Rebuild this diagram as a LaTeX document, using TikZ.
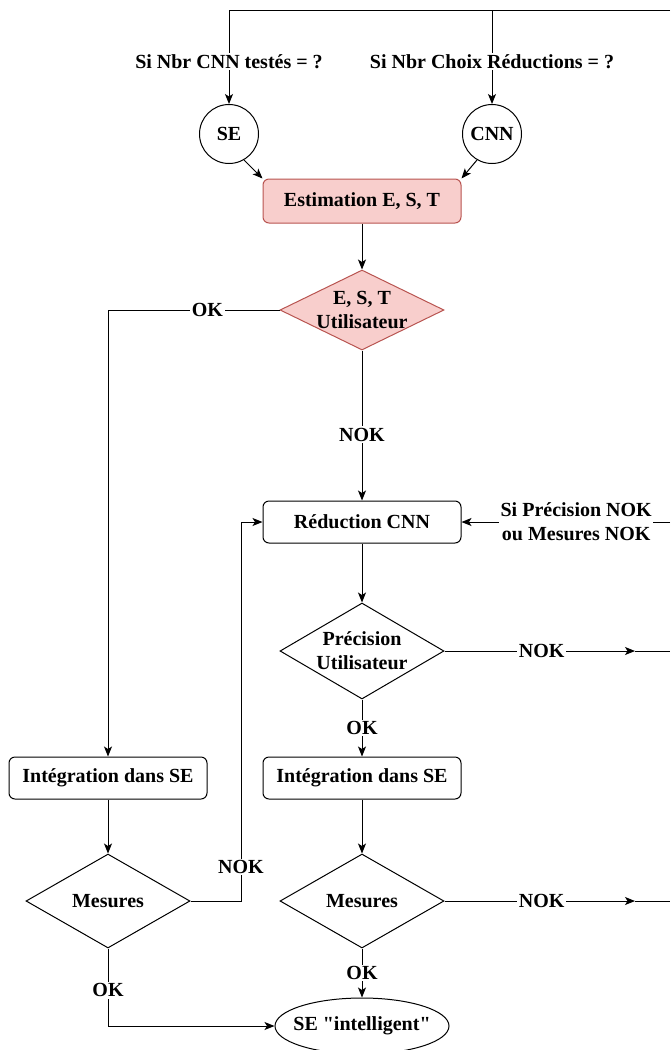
\documentclass[tikz,border=0pt]{standalone}
\usepackage{fontspec}
\newfontfamily\timesfont{Liberation Serif}
\usetikzlibrary{shapes.geometric,arrows.meta}

\definecolor{pinkfill}{HTML}{F8CECC}
\definecolor{pinkline}{HTML}{B85450}

\tikzset{
  box/.style={draw,rounded corners=6pt,minimum width=198,minimum height=42,inner sep=0pt},
  decision/.style={draw,diamond,minimum width=164,minimum height=#1,inner sep=0pt},
  lbl/.style={fill=white,inner sep=1.5pt,align=center},
  pink/.style={fill=pinkfill,draw=pinkline}
}

\begin{document}
\begin{tikzpicture}[x=1pt,y=-1pt,line width=1pt,>={Stealth[length=10pt,width=8pt,inset=2.5pt]},
    font=\timesfont\fontsize{20}{24}\selectfont\bfseries]
  \useasboundingbox (0,0) rectangle (670,1050);

  \coordinate (T1) at (229,10);
  \coordinate (T2) at (492,10);
  \coordinate (TR) at (670,10);
  \coordinate (RedIn) at (670,522);
  \coordinate (Back) at (241,522);
  \coordinate (PrecNok) at (635,651);
  \coordinate (PrecOut) at (670,651);
  \coordinate (MesNok) at (635,901);
  \coordinate (MesOut) at (670,901);

  \node[circle,draw,minimum size=59,inner sep=0pt] (se) at (229,134) {SE};
  \node[circle,draw,minimum size=59,inner sep=0pt] (cnn) at (492,134) {CNN};
  \node[box,pink,minimum height=44] (est) at (362,201) {Estimation E, S, T};
  \node[decision=80,pink,label={[align=center]center:E, S, T\\Utilisateur}] (user) at (362,310) {};
  \node[box] (red) at (362,522) {Réduction CNN};
  \node[decision=96,label={[align=center]center:Précision\\Utilisateur}] (prec) at (362,651) {};
  \node[box] (intL) at (108,778) {Intégration dans SE};
  \node[box] (intR) at (362,778) {Intégration dans SE};
  \node[decision=94,label={center:Mesures}] (mesL) at (108,901) {};
  \node[decision=94,label={center:Mesures}] (mesR) at (362,901) {};
  \node[ellipse,draw,minimum width=174,minimum height=56,label={center:SE "intelligent"}] (fin) at (362,1026) {};

  \draw (TR) -- (T1);
  \draw[->] (T1) -- (se) node[lbl,pos=0.55] {Si Nbr CNN testés = ?};
  \draw[->] (T2) -- (cnn) node[lbl,pos=0.55] {Si Nbr Choix Réductions = ?};
  \draw[->] (se.-60) -- (est.north west);
  \draw[->] (cnn.-120) -- (est.north east);
  \draw[->] (est) -- (user);
  \draw[->] (user.west) -| (intL) node[lbl,pos=0.21] {OK};
  \draw[->] (user) -- (red) node[lbl,pos=0.56] {NOK};
  \draw[->] (RedIn) -- (red) node[lbl,pos=0.45] {Si Précision NOK\\ou Mesures NOK};
  \draw[->] (red) -- (prec);
  \draw[->] (prec) -- (PrecNok) node[lbl,pos=0.51] {NOK};
  \draw (PrecNok) -- (PrecOut);
  \draw[->] (prec) -- (intR) node[lbl,midway] {OK};
  \draw[->] (intL) -- (mesL);
  \draw[->] (intR) -- (mesR);
  \draw[->] (mesL.east) -| (Back) node[lbl,pos=0.545] {NOK} -- (red.west);
  \draw[->] (mesR) -- (MesNok) node[lbl,pos=0.51] {NOK};
  \draw (MesNok) -- (MesOut);
  \draw[->] (mesL.south) |- (fin.west) node[lbl,pos=0.27] {OK};
  \draw[->] (mesR) -- (fin) node[lbl,midway] {OK};
\end{tikzpicture}
\end{document}
